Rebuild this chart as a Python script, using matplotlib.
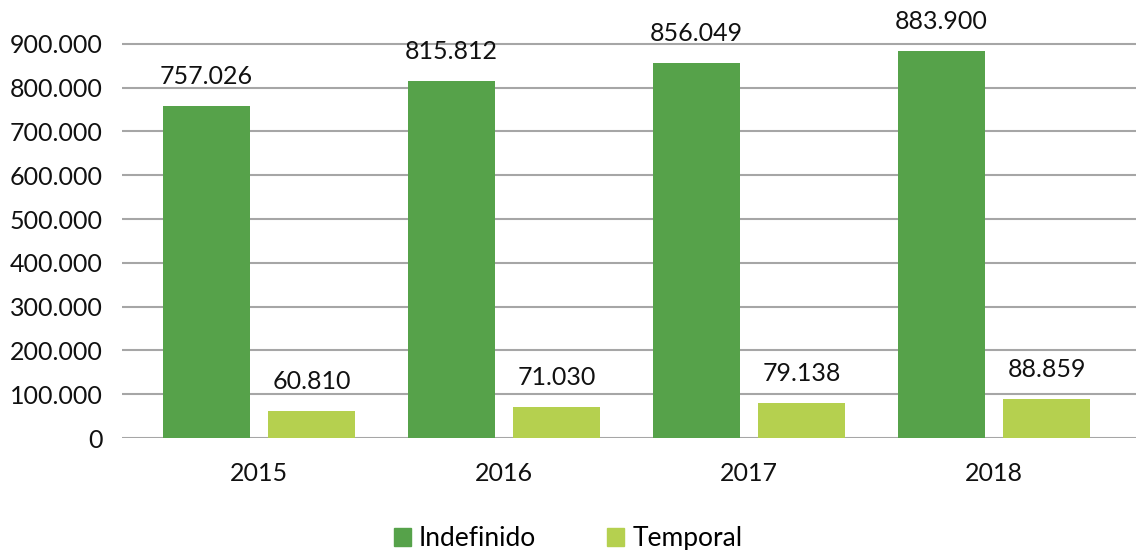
import matplotlib.pyplot as plt
from matplotlib.patches import Patch
import numpy as np

years = ["2015", "2016", "2017", "2018"]
indefinido = [757026, 815812, 856049, 883900]
temporal = [60810, 71030, 79138, 88859]
yticks = [0, 100000, 200000, 300000, 400000, 500000, 600000, 700000, 800000, 900000]

GREEN = "#56a24a"
LIGHT = "#b5d04f"
GRID = "#a6a6a6"

plt.rcParams['font.family'] = ['Lato', 'DejaVu Sans']


def fmt(v):
    return f"{v:,}".replace(",", ".")


fig = plt.figure(figsize=(11.36, 5.5), dpi=100)
ax = fig.add_axes([0.1074, 0.2036, 0.8926, 0.778])

x = np.arange(len(years))
w = 0.355
off = 0.215
b1 = ax.bar(x - off, indefinido, width=w, color=GREEN, zorder=3)
b2 = ax.bar(x + off, temporal, width=w, color=LIGHT, zorder=3)

for bars, vals in ((b1, indefinido), (b2, temporal)):
    for rect, v in zip(bars, vals):
        ax.annotate(fmt(v), (rect.get_x() + rect.get_width() / 2, v),
                    xytext=(0, 13), textcoords="offset points",
                    ha="center", va="bottom", fontsize=18, color="#111111")

ax.set_xlim(-0.56, 3.58)
ax.set_ylim(0, 977000)
ax.set_yticks(yticks)
ax.set_yticklabels([fmt(v) for v in yticks])
ax.set_xticks(x)
ax.set_xticklabels(years)
ax.tick_params(axis="y", length=0, pad=14, labelsize=18, labelcolor="#111111")
ax.tick_params(axis="x", length=0, pad=17, labelsize=18, labelcolor="#111111")
ax.yaxis.grid(True, color=GRID, linewidth=1.5, zorder=0)
for s in ax.spines.values():
    s.set_visible(False)

handles = [Patch(color=GREEN, label="Indefinido"), Patch(color=LIGHT, label="Temporal")]
fig.legend(handles=handles, loc="lower center", bbox_to_anchor=(0.5, -0.045), ncol=2,
           frameon=False, fontsize=19, handlelength=0.65, handleheight=0.65,
           handletextpad=0.3, columnspacing=2.7)

fig.savefig("out.png", dpi=100)
